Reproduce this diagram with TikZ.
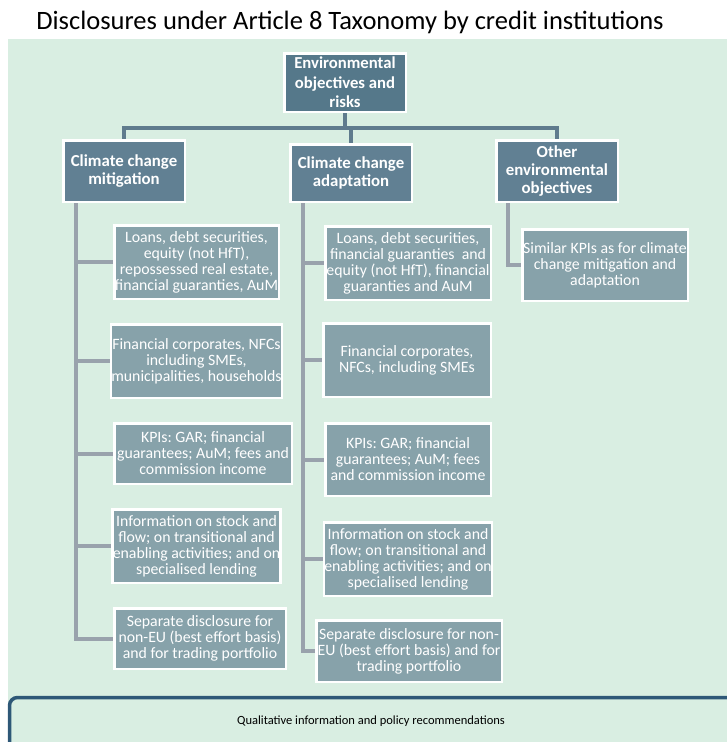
\documentclass[tikz,border=0pt]{standalone}
\usepackage{fontspec}
\setmainfont{Carlito}
\frenchspacing
\definecolor{bggreen}{HTML}{D9EEE2}
\definecolor{topblue}{HTML}{55788A}
\definecolor{headblue}{HTML}{618093}
\definecolor{leafgrey}{HTML}{87A2AA}
\definecolor{busblue}{HTML}{5F7B8D}
\definecolor{spinegrey}{HTML}{99A2AC}
\definecolor{navy}{HTML}{2E5877}
\tikzset{%
box/.style={draw=white, line width=2.5pt, align=center, inner sep=0.5pt, text=white},
topbox/.style={box, fill=topblue, font=\fontsize{16.7}{19.5}\selectfont\bfseries},
headbox/.style={box, fill=headblue, font=\fontsize{16.8}{18.3}\selectfont\bfseries},
leafbox/.style={box, fill=leafgrey, font=\fontsize{15.8}{16}\selectfont},
bus/.style={draw=busblue, line width=4pt},
spine/.style={draw=spinegrey, line width=4pt},
}

\begin{document}
\begin{tikzpicture}[x=1pt,y=-1pt]
    \useasboundingbox (0,0) rectangle (727,742);
    \clip (0,0) rectangle (727,742);
    \fill[bggreen] (8,39) rectangle (727,742);
    \node[font=\fontsize{26.5}{30}\selectfont] (title) at (350,22) {Disclosures under Article 8 Taxonomy by credit institutions};
    % tree
    \node[topbox, minimum width=121.5pt, minimum height=58.5pt] (env) at (345,82.5) {Environmental\\objectives and\\risks};
    \node[headbox, minimum width=121.5pt, minimum height=61.5pt] (mit) at (124,171) {Climate change\\mitigation};
    \node[headbox, minimum width=121.5pt, minimum height=57.5pt] (ada) at (351,173) {Climate change\\adaptation};
    \node[headbox, minimum width=121.5pt, minimum height=61.5pt] (oth) at (557,171) {Other\\environmental\\objectives};
    \node[leafbox, minimum width=164.5pt, minimum height=73.5pt] (m1) at (196.5,262) {Loans, debt securities,\\equity (not HfT),\\repossessed real estate,\\financial guaranties, AuM};
    \node[leafbox, minimum width=166.5pt, minimum height=73.5pt] (m2) at (196.5,361) {Financial corporates, NFCs\\including SMEs,\\municipalities, households};
    \node[leafbox, minimum width=177.5pt, minimum height=60.5pt] (m3) at (203,453.5) {KPIs: GAR; financial\\guarantees; AuM; fees and\\commission income};
    \node[leafbox, minimum width=164.5pt, minimum height=73.5pt] (m4) at (196.5,546) {Information on stock and\\flow; on transitional and\\enabling activities; and on\\specialised lending};
    \node[leafbox, minimum width=171.5pt, minimum height=60.5pt] (m5) at (200,638.5) {Separate disclosure for\\non-EU (best effort basis)\\and for trading portfolio};
    \node[leafbox, minimum width=165.5pt, minimum height=73.5pt] (a1) at (408,263) {Loans, debt securities,\\financial guaranties~ and\\equity (not HfT), financial\\guaranties and AuM};
    \node[leafbox, minimum width=167.5pt, minimum height=73.5pt] (a2) at (407,360) {Financial corporates,\\NFCs, including SMEs};
    \node[leafbox, minimum width=165.5pt, minimum height=72.5pt] (a3) at (408,459.5) {KPIs: GAR; financial\\guarantees; AuM; fees\\and commission income};
    \node[leafbox, minimum width=165.5pt, minimum height=73.5pt] (a4) at (408,559) {Information on stock and\\flow; on transitional and\\enabling activities; and on\\specialised lending};
    \node[leafbox, minimum width=185.5pt, minimum height=61.5pt] (a5) at (409,651) {Separate disclosure for non-\\EU (best effort basis) and for\\trading portfolio};
    \node[leafbox, minimum width=165.5pt, minimum height=71.5pt] (o1) at (605,265) {Similar KPIs as for climate\\change mitigation and\\adaptation};
    % connectors
    \draw[bus] (env.south) -- ++(0,15) -| (mit.north);
    \draw[bus] (env.south) ++(0,15) -| (oth.north);
    \draw[bus] (env.south) ++(0,15) -| (ada.north);
    \foreach \i in {1,...,5}{
      \draw[spine] ([xshift=14pt]mit.south west) |- (m\i.west);
      \draw[spine] ([xshift=14pt]ada.south west) |- (a\i.west);
    }
    \draw[spine] ([xshift=13pt]oth.south west) |- (o1.west);
    % bottom panel
    \draw[navy, line width=3.5pt, fill=bggreen, rounded corners=8pt] (9.5,697.5) rectangle (760,790);
    \node[font=\fontsize{12.5}{15}\selectfont] (qual) at (371,721) {Qualitative information and policy recommendations};
\end{tikzpicture}
\end{document}
